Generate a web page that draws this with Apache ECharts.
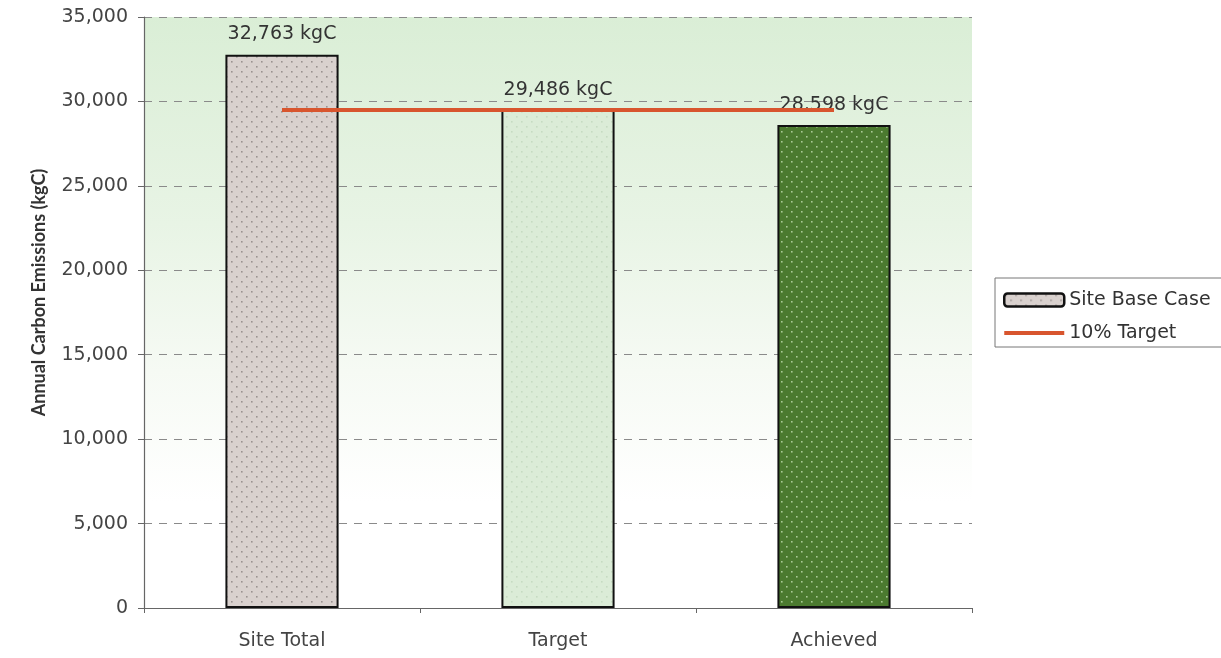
<!DOCTYPE html>
<html>
<head>
<meta charset="utf-8">
<script src="https://cdn.jsdelivr.net/npm/echarts@6/dist/echarts.min.js"></script>
<style>
  html, body { margin: 0; padding: 0; background: #ffffff; }
  #chart { width: 1221px; height: 658px; }
</style>
</head>
<body>
<div id="chart"></div>
<script>
// Annual carbon emissions: base case, 10% reduction target, achieved
const categories = ['Site Total', 'Target', 'Achieved'];
const emissions = [32763, 29486, 28598];
const targetLine = [29486, 29486, 29486];
const yTicks = [0, 5000, 10000, 15000, 20000, 25000, 30000, 35000];
const seriesNames = ['Site Base Case', '10% Target'];

// Stippled fill: a base colour with a staggered grid of small dots
function dotPattern(base, dot) {
  const c = document.createElement('canvas');
  c.width = 10; c.height = 10;
  const g = c.getContext('2d');
  g.fillStyle = base;
  g.fillRect(0, 0, 10, 10);
  g.fillStyle = dot;
  g.fillRect(1, 1, 1.6, 1.6);
  g.fillRect(6, 6, 1.6, 1.6);
  return { image: c, repeat: 'repeat' };
}

const barFills = [
  dotPattern('#d9d1ce', '#9a9290'),
  dotPattern('#dbecd7', '#c6dbc2'),
  dotPattern('#4b7a2f', '#a9c995')
];

const TARGET_RED = '#d8552e';
const fmt = v => v.toLocaleString('en-US');
const FONT = '"DejaVu Sans", sans-serif';
const TITLE_FONT = 'Lato, "DejaVu Sans", sans-serif';

const chart = echarts.init(document.getElementById('chart'));
chart.setOption({
  animation: false,
  backgroundColor: '#ffffff',
  textStyle: { fontFamily: FONT },
  grid: {
    left: 144, right: 249, top: 17, bottom: 50,
    show: true,
    borderWidth: 0,
    backgroundColor: new echarts.graphic.LinearGradient(0, 0, 0, 1, [
      { offset: 0, color: '#daeed6' },
      { offset: 0.35, color: '#e8f4e5' },
      { offset: 0.6, color: '#f6faf4' },
      { offset: 0.82, color: '#ffffff' },
      { offset: 1, color: '#ffffff' }
    ])
  },
  legend: {
    orient: 'vertical',
    left: 995, top: 278,
    itemGap: 13,
    itemWidth: 60, itemHeight: 13,
    padding: [12, 60, 4, 8],
    borderColor: '#777777', borderWidth: 1,
    backgroundColor: '#ffffff',
    borderRadius: 0,
    textStyle: { fontSize: 19, lineHeight: 20, color: '#333333', fontFamily: FONT },
    data: [
      { name: seriesNames[0], icon: 'roundRect', itemStyle: { color: barFills[0], borderColor: '#111111', borderWidth: 2.5 } },
      { name: seriesNames[1], icon: 'path://M0,0L60,0L60,4L0,4Z', itemStyle: { color: TARGET_RED, borderWidth: 0 } }
    ]
  },
  xAxis: {
    type: 'category',
    data: categories,
    boundaryGap: true,
    axisLine: { lineStyle: { color: '#666666', width: 1.2 } },
    axisTick: { show: true, alignWithLabel: false, length: 5, lineStyle: { color: '#666666' } },
    axisLabel: { fontSize: 19, color: '#444444', margin: 24, fontFamily: FONT }
  },
  yAxis: {
    type: 'value',
    min: yTicks[0], max: yTicks[yTicks.length - 1], interval: 5000,
    name: 'Annual Carbon Emissions (kgC)',
    nameLocation: 'middle',
    nameGap: 96,
    nameTextStyle: { fontSize: 18, fontWeight: 'bold', color: '#333333', fontFamily: TITLE_FONT, padding: [0, 0, 0, 40] },
    axisLine: { show: true, lineStyle: { color: '#666666', width: 1.2 } },
    axisTick: { show: true, length: 6, inside: false, lineStyle: { color: '#666666' } },
    axisLabel: { fontSize: 19, color: '#444444', margin: 16, formatter: fmt, fontFamily: FONT },
    splitLine: { show: true, lineStyle: { color: '#8a8a8a', type: [8, 7], width: 1 } }
  },
  series: [
    {
      name: seriesNames[0],
      type: 'bar',
      barWidth: '41%',
      data: emissions.map((v, i) => ({
        value: v,
        itemStyle: { color: barFills[i], borderColor: '#111111', borderWidth: 2 }
      })),
      label: {
        show: true,
        position: 'top',
        distance: 11,
        fontSize: 19,
        color: '#333333',
        fontFamily: FONT,
        formatter: p => fmt(p.value) + ' kgC'
      },
      z: 2
    },
    {
      name: seriesNames[1],
      type: 'line',
      data: targetLine,
      symbol: 'none',
      lineStyle: { color: TARGET_RED, width: 4 },
      itemStyle: { color: TARGET_RED },
      z: 3
    }
  ]
});
</script>
</body>
</html>
